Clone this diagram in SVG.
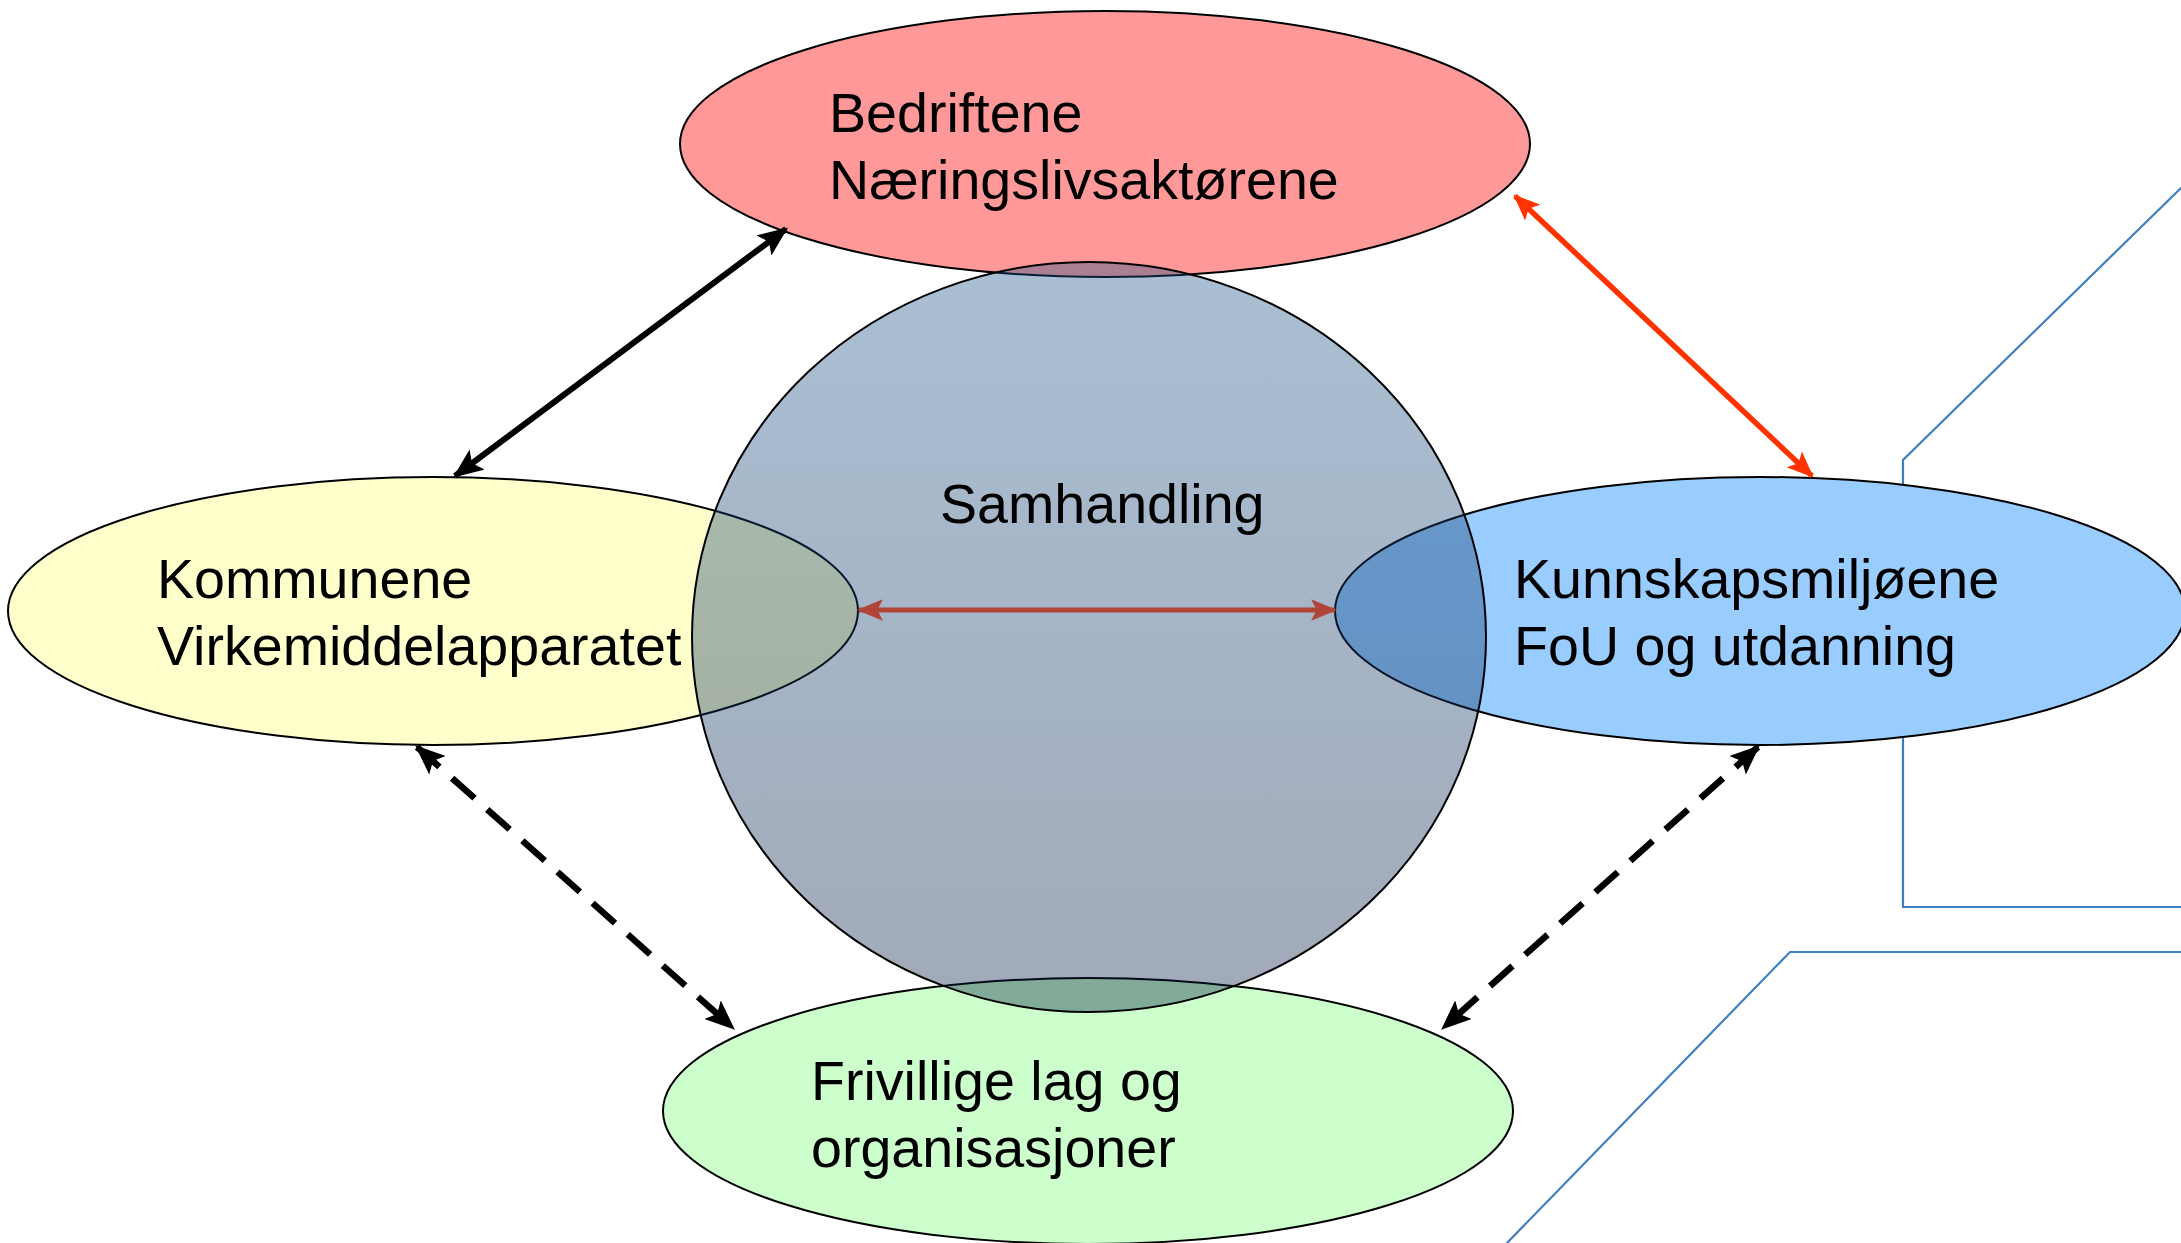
<svg xmlns="http://www.w3.org/2000/svg" width="2181" height="1243" viewBox="0 0 2181 1243">
<style>
.lbl{font-family:"Liberation Sans",Arial,sans-serif;font-size:55.6px;fill:#000}
.node{stroke:#000;stroke-width:2}
.deco{fill:none;stroke:#3F7FBF;stroke-width:2.2}
</style>
<defs>
<linearGradient id="gCirc" x1="0" y1="0" x2="0" y2="1">
<stop offset="0" stop-color="#1B538B"/>
<stop offset="1" stop-color="#03193F"/>
</linearGradient>
<marker id="aBlack" viewBox="0 0 24 20" refX="22" refY="10" markerWidth="30" markerHeight="25" markerUnits="userSpaceOnUse" orient="auto-start-reverse">
<path d="M0,0 L24,10 L0,20 L5,10 z" fill="#000"/>
</marker>
<marker id="aRed" viewBox="0 0 24 20" refX="22" refY="10" markerWidth="27" markerHeight="22" markerUnits="userSpaceOnUse" orient="auto-start-reverse">
<path d="M0,0 L24,10 L0,20 L5,10 z" fill="#FF3300"/>
</marker>
<marker id="aBrown" viewBox="0 0 24 20" refX="22" refY="10" markerWidth="26" markerHeight="22" markerUnits="userSpaceOnUse" orient="auto-start-reverse">
<path d="M0,0 L24,10 L0,20 L5,10 z" fill="#B04438"/>
</marker>
</defs>
<rect width="2181" height="1243" fill="#fff"/>
<g id="decor">
<polyline class="deco" points="2185,184 1903,460 1903,907 2185,907"/>
<polyline class="deco" points="2185,952 1790,952 1505,1245"/>
</g>
<g id="node-bedriftene">
<ellipse class="node" cx="1105" cy="144" rx="425" ry="133" fill="#FF9999"/>
<text class="lbl" x="829" y="132">Bedriftene</text>
<text class="lbl" x="829" y="199">Næringslivsaktørene</text>
</g>
<g id="node-kommunene">
<ellipse class="node" cx="433" cy="611" rx="425" ry="134" fill="#FFFFCC"/>
<text class="lbl" x="157" y="598">Kommunene</text>
<text class="lbl" x="157" y="665">Virkemiddelapparatet</text>
</g>
<g id="node-kunnskap">
<ellipse class="node" cx="1760" cy="611" rx="425" ry="134" fill="#99CCFF"/>
<text class="lbl" x="1514" y="598">Kunnskapsmiljøene</text>
<text class="lbl" x="1514" y="665">FoU og utdanning</text>
</g>
<g id="node-frivillige">
<ellipse class="node" cx="1088" cy="1111" rx="425" ry="133" fill="#CCFFCC"/>
<text class="lbl" x="811" y="1100">Frivillige lag og</text>
<text class="lbl" x="811" y="1167">organisasjoner</text>
</g>
<g id="node-samhandling">
<ellipse class="node" cx="1089" cy="637" rx="397" ry="375" fill="url(#gCirc)" fill-opacity="0.373"/>
<text class="lbl" x="940" y="523">Samhandling</text>
</g>
<g id="connectors" fill="none">
<line x1="455" y1="476" x2="786" y2="229" stroke="#000" stroke-width="6" marker-start="url(#aBlack)" marker-end="url(#aBlack)"/>
<line x1="1515" y1="196" x2="1812" y2="476" stroke="#FF3300" stroke-width="5.5" marker-start="url(#aRed)" marker-end="url(#aRed)"/>
<line x1="859" y1="610" x2="1335" y2="610" stroke="#B04438" stroke-width="5" marker-start="url(#aBrown)" marker-end="url(#aBrown)"/>
<line x1="417" y1="747" x2="733" y2="1028" stroke="#000" stroke-width="6.5" stroke-dasharray="30 17" marker-start="url(#aBlack)" marker-end="url(#aBlack)"/>
<line x1="1758" y1="747" x2="1443" y2="1028" stroke="#000" stroke-width="6.5" stroke-dasharray="30 17" marker-start="url(#aBlack)" marker-end="url(#aBlack)"/>
</g>
</svg>
